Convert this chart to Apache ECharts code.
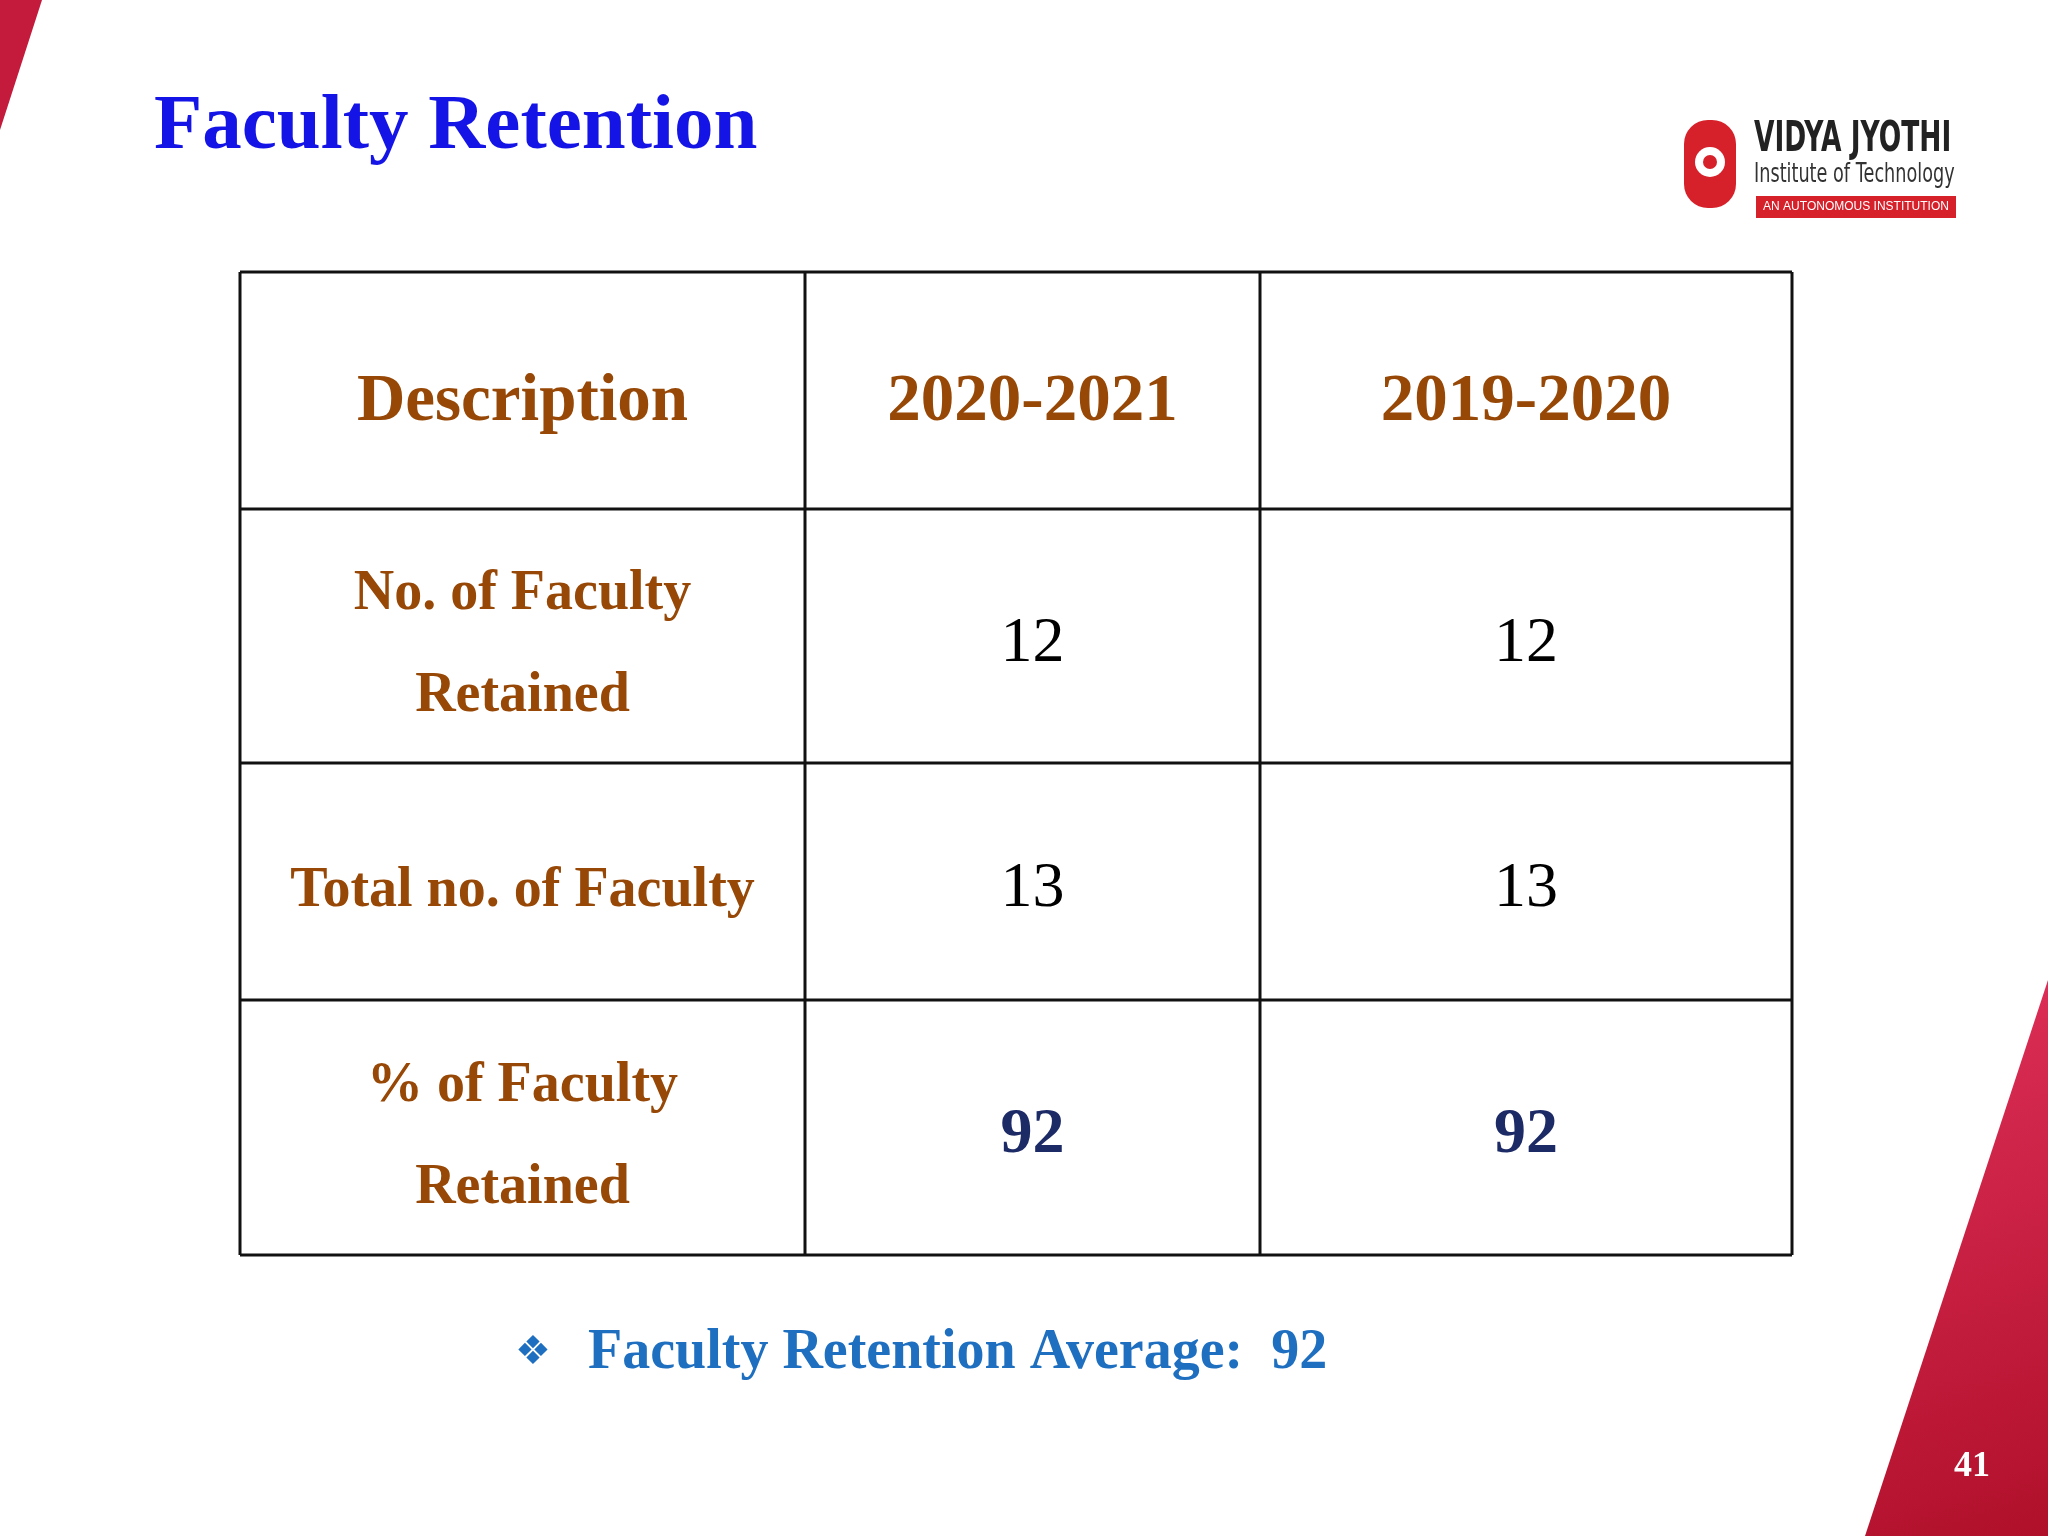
<!DOCTYPE html>
<html><head><meta charset="utf-8">
<script src="https://cdn.jsdelivr.net/npm/echarts@6/dist/echarts.min.js"></script>
<style>html,body{margin:0;padding:0;background:#fff}#c{width:2048px;height:1536px}</style>
</head><body><div id="c"></div>
<script>
const title = "Faculty Retention";
const headers = ["Description", "2020-2021", "2019-2020"];
const rowLabels = [["No. of Faculty", "Retained"], ["Total no. of Faculty"], ["% of Faculty", "Retained"]];
const col2021 = [12, 13, 92];
const col2020 = [12, 13, 92];
const footnote = "Faculty Retention Average:  92";
const pageNo = "41";

const colX = [240, 805, 1260, 1792];
const rowY = [272, 509, 763, 1000, 1255];
const serif = '"Liberation Serif","DejaVu Serif",serif';
const brown = '#974806';
const g = [];

g.push({type:'polygon', shape:{points:[[0,0],[42,0],[0,130]]}, style:{fill:'#c41a3b'}});
g.push({type:'polygon', shape:{points:[[2048,980],[2048,1536],[1865,1536]]},
  style:{fill:new echarts.graphic.LinearGradient(0,0,1,1,[{offset:0,color:'#e0305a'},{offset:1,color:'#b0102a'}])}});
g.push({type:'text', style:{text:pageNo, x:1972, y:1467, fill:'#fff', font:'bold 36px '+serif, align:'center', verticalAlign:'middle'}});

g.push({type:'text', style:{text:title, x:154, y:128, fill:'#1414e6', font:'bold 79px '+serif, verticalAlign:'middle'}});

// logo
g.push({type:'rect', shape:{x:1684,y:120,width:52,height:88,r:[24,24,24,24]}, style:{fill:'#d6202a'}});
g.push({type:'circle', shape:{cx:1710,cy:162,r:15}, style:{fill:'#fff'}});
g.push({type:'circle', shape:{cx:1710,cy:162,r:7}, style:{fill:'#d6202a'}});
g.push({type:'text', x:1754, y:140, scaleX:0.63, style:{text:'VIDYA JYOTHI', x:0, y:0, fill:'#222', font:'bold 42px "DejaVu Sans",sans-serif', verticalAlign:'middle'}});
g.push({type:'text', x:1754, y:175, scaleX:0.68, style:{text:'Institute of Technology', x:0, y:0, fill:'#333', font:'26px "DejaVu Sans",sans-serif', verticalAlign:'middle'}});
g.push({type:'rect', shape:{x:1756,y:196,width:200,height:22}, style:{fill:'#d6202a'}});
g.push({type:'text', style:{text:'AN AUTONOMOUS INSTITUTION', x:1856, y:207, fill:'#fff', font:'12px "Liberation Sans",sans-serif', align:'center', verticalAlign:'middle'}});

for (const y of rowY) g.push({type:'line', shape:{x1:colX[0],y1:y,x2:colX[3],y2:y}, style:{stroke:'#111',lineWidth:3}});
for (const x of colX) g.push({type:'line', shape:{x1:x,y1:rowY[0],x2:x,y2:rowY[4]}, style:{stroke:'#111',lineWidth:3}});

const cx = i => (colX[i]+colX[i+1])/2;
const cy = j => (rowY[j]+rowY[j+1])/2;
headers.forEach((h,i)=>g.push({type:'text', style:{text:h, x:cx(i), y:cy(0)+12, fill:brown, font:'bold 67px '+serif, align:'center', verticalAlign:'middle'}}));
rowLabels.forEach((lines,j)=>{
  const n = lines.length;
  lines.forEach((t,k)=>g.push({type:'text', style:{text:t, x:cx(0), y:cy(j+1)+10+(k-(n-1)/2)*102, fill:brown, font:'bold 56px '+serif, align:'center', verticalAlign:'middle'}}));
});
[col2021, col2020].forEach((col,i)=>col.forEach((v,j)=>{
  const last = j===col.length-1;
  g.push({type:'text', style:{text:String(v), x:cx(i+1), y:cy(j+1)+8, fill:last?'#1c2a66':'#000', font:(last?'bold ':'')+'64px '+serif, align:'center', verticalAlign:'middle'}});
}));

g.push({type:'text', style:{text:'❖', x:533, y:1354, fill:'#1f6fc0', font:'40px "DejaVu Sans",sans-serif', align:'center', verticalAlign:'middle'}});
g.push({type:'text', style:{text:footnote, x:588, y:1354, fill:'#1f6fc0', font:'bold 56px '+serif, verticalAlign:'middle'}});

const chart = echarts.init(document.getElementById('c'));
chart.setOption({backgroundColor:'#fff', animation:false, graphic:g});
</script></body></html>
